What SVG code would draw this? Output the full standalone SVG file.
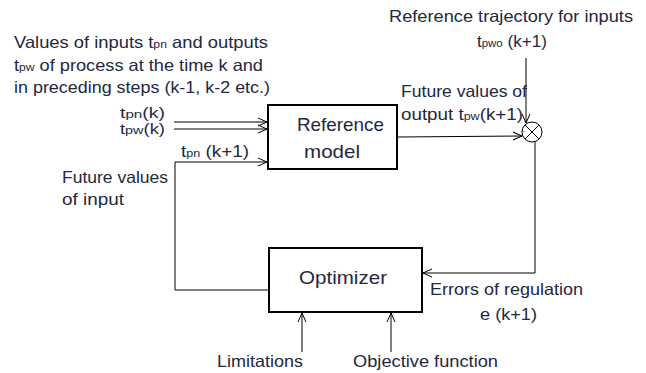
<svg xmlns="http://www.w3.org/2000/svg" width="646" height="373" viewBox="0 0 646 373">
<style>
text{font-family:"Liberation Sans",Arial,sans-serif;fill:#23283f;}
.l{font-size:16.5px;}
.m{font-size:14px;}
.b{font-size:19px;}
.s{font-size:11px;}
.box{fill:#fff;stroke:#000;stroke-width:2;}
.c{fill:none;stroke:#000;stroke-width:1;}
</style>
<defs>
<marker id="ah" markerUnits="userSpaceOnUse" markerWidth="12" markerHeight="12" refX="10" refY="5" orient="auto">
<path d="M1,1 L10,5 L1,9" fill="none" stroke="#000" stroke-width="1"/>
</marker>
</defs>
<rect width="646" height="373" fill="#fff"/>
<g id="connectors">
<line class="c" x1="174" y1="122" x2="267" y2="122" marker-end="url(#ah)"/>
<line class="c" x1="174" y1="129" x2="267" y2="129" marker-end="url(#ah)"/>
<polyline class="c" points="269,290 175,290 175,162 267,162" marker-end="url(#ah)"/>
<line class="c" x1="398" y1="137" x2="522" y2="136" marker-end="url(#ah)"/>
<line class="c" x1="526" y1="58" x2="526" y2="123" marker-end="url(#ah)"/>
<polyline class="c" points="535,142 535,273 423,273" marker-end="url(#ah)"/>
<line class="c" x1="302" y1="352" x2="302" y2="313" marker-end="url(#ah)"/>
<line class="c" x1="391" y1="352" x2="391" y2="313" marker-end="url(#ah)"/>
</g>
<g id="sum">
<circle cx="532" cy="132" r="10" fill="#fff" stroke="#000" stroke-width="1"/>
<line class="c" x1="525" y1="125" x2="539" y2="139"/>
<line class="c" x1="539" y1="125" x2="525" y2="139"/>
<text x="521" y="134" class="s" style="fill:#3a5a9a">-</text>
</g>
<g id="reference-model">
<rect class="box" x="268" y="105" width="129" height="64"/>
<text class="b" x="297" y="131" textLength="87" lengthAdjust="spacingAndGlyphs">Reference</text>
<text class="b" x="304" y="158" textLength="56" lengthAdjust="spacingAndGlyphs">model</text>
</g>
<g id="optimizer">
<rect class="box" x="269" y="248" width="153" height="64"/>
<text class="b" x="299" y="284" textLength="88" lengthAdjust="spacingAndGlyphs">Optimizer</text>
</g>
<g id="labels">
<text class="l" x="14" y="48" textLength="254" lengthAdjust="spacingAndGlyphs">Values of inputs t<tspan class="s">pn</tspan> and outputs</text>
<text class="l" x="14" y="71" textLength="249" lengthAdjust="spacingAndGlyphs">t<tspan class="s">pw</tspan> of process at the time k and</text>
<text class="l" x="14" y="93" textLength="256" lengthAdjust="spacingAndGlyphs">in preceding steps (k-1, k-2 etc.)</text>
<text class="m" x="120" y="118" textLength="45" lengthAdjust="spacingAndGlyphs">t<tspan class="s">pn</tspan>(k)</text>
<text class="m" x="120" y="134" textLength="45" lengthAdjust="spacingAndGlyphs">t<tspan class="s">pw</tspan>(k)</text>
<text class="l" x="181" y="157" textLength="68" lengthAdjust="spacingAndGlyphs">t<tspan class="s">pn</tspan> (k+1)</text>
<text class="l" x="62" y="183" textLength="106" lengthAdjust="spacingAndGlyphs">Future values</text>
<text class="l" x="62" y="205" textLength="62" lengthAdjust="spacingAndGlyphs">of input</text>
<text class="l" x="389" y="22" textLength="244" lengthAdjust="spacingAndGlyphs">Reference trajectory for inputs</text>
<text class="l" x="477" y="47" textLength="70" lengthAdjust="spacingAndGlyphs">t<tspan class="s">pwo</tspan> (k+1)</text>
<text class="l" x="401" y="97" textLength="126" lengthAdjust="spacingAndGlyphs">Future values of</text>
<text class="l" x="401" y="120" textLength="122" lengthAdjust="spacingAndGlyphs">output t<tspan class="s">pw</tspan>(k+1)</text>
<text class="l" x="430" y="295" textLength="153" lengthAdjust="spacingAndGlyphs">Errors of regulation</text>
<text class="l" x="480" y="320" textLength="57" lengthAdjust="spacingAndGlyphs">e (k+1)</text>
<text class="l" x="217" y="367" textLength="86" lengthAdjust="spacingAndGlyphs">Limitations</text>
<text class="l" x="353" y="367" textLength="145" lengthAdjust="spacingAndGlyphs">Objective function</text>
</g>
</svg>
